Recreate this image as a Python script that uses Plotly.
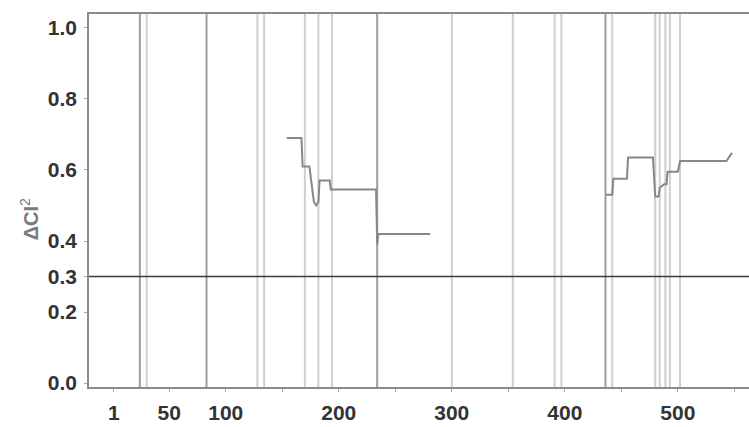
import plotly.graph_objects as go

# ---- data ----
seg1_x = [154, 167, 168, 174, 176, 178, 180, 182, 183, 192, 193, 233, 234, 235, 281]
seg1_y = [0.69, 0.69, 0.61, 0.61, 0.56, 0.51, 0.50, 0.51, 0.57, 0.57, 0.545, 0.545, 0.39, 0.42, 0.42]

seg2_x = [436, 442, 443, 455, 456, 478, 480, 483, 484, 488, 490, 491, 500, 502, 543, 548]
seg2_y = [0.53, 0.53, 0.575, 0.575, 0.635, 0.635, 0.525, 0.525, 0.55, 0.56, 0.56, 0.595, 0.595, 0.625, 0.625, 0.648]

strong_lines = [24, 83, 234, 436]
light_lines = [30, 128, 134, 170, 182, 194, 300, 354, 391, 397, 442, 480, 484, 489, 493, 502]

threshold = 0.3

x_tickvals = [1, 50, 100, 150, 200, 250, 300, 350, 400, 450, 500, 550]
x_ticktext = ["1", "50", "100", "", "200", "", "300", "", "400", "", "500", ""]
y_tickvals = [0.0, 0.2, 0.3, 0.4, 0.6, 0.8, 1.0]
y_ticktext = ["0.0", "0.2", "0.3", "0.4", "0.6", "0.8", "1.0"]

fig = go.Figure()

shapes = []
for xv in light_lines:
    shapes.append(dict(type="line", xref="x", yref="paper", x0=xv, x1=xv, y0=0, y1=1,
                       line=dict(color="#d2cece", width=2), layer="below"))
for xv in strong_lines:
    shapes.append(dict(type="line", xref="x", yref="paper", x0=xv, x1=xv, y0=0, y1=1,
                       line=dict(color="#a39b9b", width=2), layer="below"))
shapes.append(dict(type="line", xref="paper", yref="y", x0=0, x1=1, y0=threshold, y1=threshold,
                   line=dict(color="#3a3a3a", width=1.3)))

for xs, ys in [(seg1_x, seg1_y), (seg2_x, seg2_y)]:
    fig.add_trace(go.Scatter(x=xs, y=ys, mode="lines",
                             line=dict(color="#8c8585", width=2), showlegend=False,
                             hoverinfo="skip"))

font_tick = dict(family="Liberation Sans, Arial, sans-serif", size=21, color="#333333", weight="bold")

fig.update_layout(
    width=749, height=427,
    margin=dict(l=89, r=0, t=14, b=40, autoexpand=False),
    paper_bgcolor="white", plot_bgcolor="white",
    shapes=shapes,
    showlegend=False,
    xaxis=dict(range=[-21, 563], tickmode="array", tickvals=x_tickvals, ticktext=x_ticktext,
               showgrid=False, zeroline=False, showline=True, linecolor="#8f8a8a", linewidth=1.5,
               mirror=True, ticks="outside", ticklen=3, tickcolor="#a8a2a2", tickwidth=1,
               tickfont=font_tick, ticklabelstandoff=3, automargin=False),
    yaxis=dict(range=[-0.011, 1.039], tickmode="array", tickvals=y_tickvals, ticktext=y_ticktext,
               showgrid=False, zeroline=False, showline=True, linecolor="#8f8a8a", linewidth=1.5,
               ticks="outside", ticklen=3, tickcolor="#a8a2a2", tickwidth=1,
               tickfont=font_tick, ticklabelstandoff=3, automargin=False),
    annotations=[dict(text="<b>ΔCI</b><sup>2</sup>", xref="paper", yref="y", x=-0.09, y=0.46,
                      xanchor="center", textangle=-90, showarrow=False,
                      font=dict(family="Liberation Sans, Arial, sans-serif", size=20, color="#7a7a7a"))],
)

fig.write_html("out.html", config={"displayModeBar": False},
               post_script="document.body.style.margin='0';document.body.style.padding='0';"
                           "document.documentElement.style.overflow='hidden';")
